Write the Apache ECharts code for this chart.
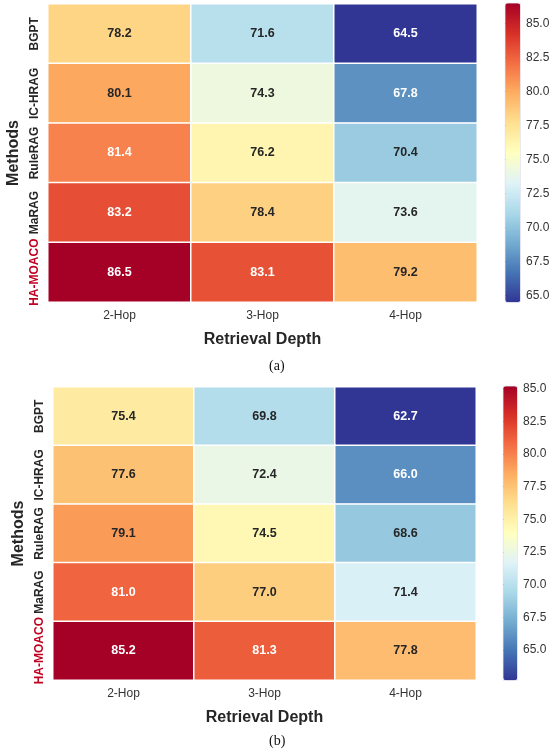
<!DOCTYPE html>
<html>
<head>
<meta charset="utf-8">
<script src="https://cdn.jsdelivr.net/npm/echarts@6/dist/echarts.min.js"></script>
<style>
  html, body { margin: 0; padding: 0; background: #fff; }
  #chart { width: 550px; height: 753px; }
</style>
</head>
<body>
<div id="chart"></div>
<script>
// 两张热力图：不同检索深度下各方法的得分。

const methods = ["BGPT", "IC-HRAG", "RuleRAG", "MaRAG", "HA-MOACO"];
const depths = ["2-Hop", "3-Hop", "4-Hop"];

// 每行对应一个方法，列依次为 2/3/4-Hop
const scoresA = [
  [78.2, 71.6, 64.5],
  [80.1, 74.3, 67.8],
  [81.4, 76.2, 70.4],
  [83.2, 78.4, 73.6],
  [86.5, 83.1, 79.2],
];
const scoresB = [
  [75.4, 69.8, 62.7],
  [77.6, 72.4, 66.0],
  [79.1, 74.5, 68.6],
  [81.0, 77.0, 71.4],
  [85.2, 81.3, 77.8],
];
const barTicks = [65.0, 67.5, 70.0, 72.5, 75.0, 77.5, 80.0, 82.5, 85.0];

// RdYlBu_r
const RDYLBU_R = ["#313695", "#4575b4", "#74add1", "#abd9e9", "#e0f3f8", "#ffffbf",
  "#fee090", "#fdae61", "#f46d43", "#d73027", "#a50026"];

const FONT = "Liberation Sans";
const INK = "#262626";

function flatten(scores) {
  const vals = scores.flat();
  const lo = Math.min(...vals), hi = Math.max(...vals);
  const out = [];
  scores.forEach((row, r) => {
    row.forEach((v, c) => {
      const t = (v - lo) / (hi - lo);
      // 深色格子用白字，浅色格子用黑字
      const dark = t < 0.2 || t > 0.74;
      out.push({ value: [c, r, v], label: { color: dark ? "#fff" : INK } });
    });
  });
  return { data: out, lo, hi };
}

// 一块热力图 + 色条所需的全部组件
function panel(idx, scores, g, bar) {
  const { data, lo, hi } = flatten(scores);
  const grids = [
    { left: g.left, top: g.top, width: g.width, height: g.height, outerBoundsMode: "none" },
    { left: bar.left, top: bar.top, width: bar.width, height: bar.height, outerBoundsMode: "none" },
  ];
  const xAxes = [
    {
      gridIndex: idx * 2, type: "category", data: depths,
      axisLine: { show: false }, axisTick: { show: false },
      axisLabel: { color: "#333", fontSize: 12, fontFamily: FONT, margin: 8 },
      name: "Retrieval Depth", nameLocation: "middle", nameGap: 30,
      nameTextStyle: { color: INK, fontSize: 16, fontWeight: "bold", fontFamily: FONT },
    },
    { gridIndex: idx * 2 + 1, type: "value", show: false },
  ];
  const yAxes = [
    {
      gridIndex: idx * 2, type: "category", data: methods, inverse: true,
      axisLine: { show: false }, axisTick: { show: false },
      axisLabel: {
        interval: 0, rotate: 90, margin: 7, fontSize: 12, fontWeight: "bold", fontFamily: FONT, color: INK,
        formatter: (v) => (v === "HA-MOACO" ? "{r|" + v + "}" : v),
        rich: { r: { color: "#c00020", fontSize: 12, fontWeight: "bold", fontFamily: FONT } },
      },
      name: "Methods", nameLocation: "middle", nameGap: 26, nameRotate: 90,
      nameTextStyle: { color: INK, fontSize: 16, fontWeight: "bold", fontFamily: FONT },
    },
    {
      gridIndex: idx * 2 + 1, type: "value", position: "right", min: lo, max: hi,
      splitLine: { show: false }, axisLine: { show: false },
      axisTick: { show: true, length: 4, lineStyle: { color: "#333" }, customValues: barTicks },
      axisLabel: {
        color: "#333", fontSize: 12, fontFamily: FONT, margin: 6,
        customValues: barTicks, formatter: (v) => v.toFixed(1),
      },
    },
  ];
  const visualMap = {
    type: "continuous", seriesIndex: idx, min: lo, max: hi,
    calculable: false, orient: "vertical",
    left: bar.left, top: bar.top, padding: 0,
    itemWidth: bar.width, itemHeight: bar.height,
    inRange: { color: RDYLBU_R },
    text: null, showLabel: false,
    borderColor: "#c8c8e0", borderWidth: 0.5,
  };
  const series = {
    type: "heatmap", xAxisIndex: idx * 2, yAxisIndex: idx * 2,
    data,
    itemStyle: { borderColor: "#fff", borderWidth: 1.5 },
    label: {
      show: true, fontSize: 12.5, fontWeight: "bold", fontFamily: FONT,
      formatter: (p) => p.value[2].toFixed(1),
    },
    emphasis: { disabled: true },
  };
  return { grids, xAxes, yAxes, visualMap, series };
}

const pa = panel(0, scoresA,
  { left: 48, top: 4, width: 429, height: 298 },
  { left: 505, top: 3, width: 15, height: 299 });
const pb = panel(1, scoresB,
  { left: 53, top: 387, width: 423, height: 293 },
  { left: 503, top: 386, width: 14, height: 294 });

const chart = echarts.init(document.getElementById("chart"));
chart.setOption({
  animation: false,
  backgroundColor: "#fff",
  grid: [...pa.grids, ...pb.grids],
  xAxis: [...pa.xAxes, ...pb.xAxes],
  yAxis: [...pa.yAxes, ...pb.yAxes],
  visualMap: [pa.visualMap, pb.visualMap],
  series: [pa.series, pb.series],
  graphic: [
    { type: "text", left: 269, top: 359, style: { text: "(a)", font: "14px 'Liberation Serif'", fill: "#111" } },
    { type: "text", left: 269, top: 734, style: { text: "(b)", font: "14px 'Liberation Serif'", fill: "#111" } },
  ],
});
</script>
</body>
</html>
